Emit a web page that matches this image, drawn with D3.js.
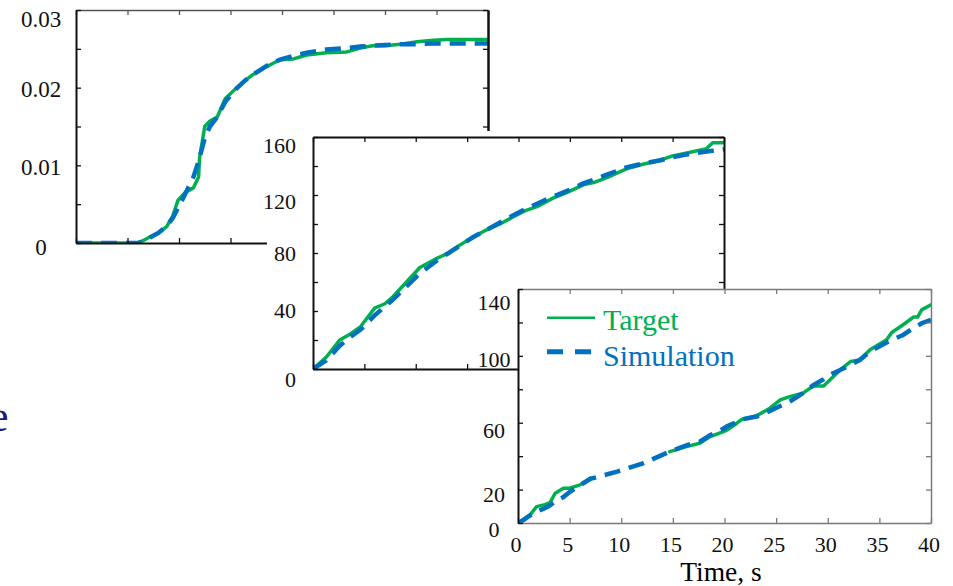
<!DOCTYPE html>
<html>
<head>
<meta charset="utf-8">
<script src="https://cdn.jsdelivr.net/npm/d3@7"></script>
<style>
  html, body { margin: 0; padding: 0; background: #fff; }
  svg { display: block; }
  text { font-family: "Liberation Serif", "Times New Roman", serif; }
</style>
</head>
<body>
<svg id="chart" width="953" height="586"></svg>
<script>
// ---- data -------------------------------------------------------------
const timeTicks = [0, 5, 10, 15, 20, 25, 30, 35, 40];
const timeLabels = ["0", "5", "10", "15", "20", "25", "30", "35", "40"];
const seriesNames = ["Target", "Simulation"];

// upper panel
const timeA = [0, 2, 4, 6, 6.5, 7.2, 8, 8.8, 9.4, 9.9, 10.6, 11.4, 11.9, 12.0, 12.5, 13.0, 13.7, 14.5,
  15.6, 16.4, 17.2, 18.5, 19.8, 21.1, 22.4, 24.3, 26.3, 27.6, 28.8, 30, 31.5, 33.1, 34.7, 36, 38, 40];
const targetA = [0, 0, 0, 0, 0.0003, 0.0008, 0.0013, 0.0021, 0.0035, 0.0055, 0.0065, 0.0071, 0.0085, 0.011,
  0.015, 0.0157, 0.0162, 0.0186, 0.0200, 0.0209, 0.0217, 0.0227, 0.0236, 0.0237, 0.0242, 0.0245, 0.0246,
  0.0251, 0.0254, 0.0254, 0.0256, 0.0259, 0.0261, 0.0262, 0.0262, 0.0262];
const simA = [0, 0, 0, 0, 0.0002, 0.0007, 0.0013, 0.0022, 0.0032, 0.0045, 0.0063, 0.0085, 0.0105, 0.011,
  0.0135, 0.015, 0.0162, 0.0182, 0.0199, 0.0209, 0.0217, 0.0228, 0.0236, 0.0241, 0.0245, 0.0249, 0.0251,
  0.0253, 0.0254, 0.0255, 0.0256, 0.0256, 0.0257, 0.0257, 0.0257, 0.0257];
const yTicksA = [0, 0.005, 0.01, 0.015, 0.02, 0.025, 0.03];
const yLabelsA = [0, 0.01, 0.02, 0.03];
const yLabelTextA = ["0", "0.01", "0.02", "0.03"];

// middle panel
const timeB = [0, 1.3, 2.6, 3.6, 4.6, 6, 7, 7.8, 9.1, 10.4, 12.1, 13.2, 14.3, 15.6, 16.9, 18.2, 19.5, 20.6,
  21.8, 23.4, 24.8, 26.3, 27.5, 28.6, 30.5, 32, 33.8, 35, 36.4, 38.3, 38.9, 40];
const targetB = [0, 8.3, 20, 24, 29, 42, 45, 50, 60, 70, 76.5, 80, 85.5, 91, 96, 100, 105, 109, 112, 118,
  122, 127, 129, 132, 138, 141, 144, 147, 149, 152, 156, 156];
const simB = [0, 6, 16, 22, 27, 37, 43, 48, 57, 66, 75, 80, 85, 91, 96, 101, 106, 110, 114, 119, 123, 128,
  131, 134, 139, 141.5, 144, 146, 148, 150, 150.5, 151.5];
const yTicksB = [0, 20, 40, 60, 80, 100, 120, 140, 160];
const yLabelsB = [0, 40, 80, 120, 160];

// lower panel (target record has a gap)
const timeC = [0, 0.6, 1.16, 1.8, 2.6, 3.1, 3.6, 4.4, 5.0, 6.0, 7.0, 9.6, 12.1, 14.7, 16.3, 17.6, 18.6, 19.9,
  20.2, 21.2, 21.7, 23.1, 24.4, 25.4, 26.3, 27.6, 28.6, 29.6, 30.2, 31.2, 32.2, 33.1, 34.1, 35.7, 36.2, 37.3,
  38.3, 38.7, 39.1, 40];
const targetC = [0, 2.5, 4.8, 9.8, 11, 12.2, 17.8, 20.8, 20.8, 22.8, 26.8, null, null, 42.7, 45.7, 47.7, 51.7,
  54.7, 55.5, 59.7, 62.1, 64.1, 68.7, 73.7, 75.6, 77.7, 82, 82, 85.6, 91.6, 96.6, 97.6, 103.6, 109.6, 114,
  118.6, 123.2, 123.2, 127.5, 130.5];
const simC = [0, 2.0, 4.5, 7, 8.8, 10.5, 13, 15.5, 18.5, 22.5, 26.4, 30.7, 35.7, 42.7, 46.5, 48.7, 52.5, 56.5,
  57.7, 60.5, 62, 63.7, 67, 70, 72.6, 77.7, 82.5, 86, 88.6, 91.5, 94.6, 97.5, 102.6, 108, 109.6, 112.5,
  116.6, 118, 119.5, 121.6];
const yTicksC = [0, 20, 40, 60, 80, 100, 120, 140];
const yLabelsC = [0, 20, 60, 100, 140];

// ---- styling ----------------------------------------------------------
const GREEN = "#00b050";
const BLUE = "#0070c0";
const FONT_TICK = 22;

const svg = d3.select("#chart");

const panels = [
  {
    id: "A", box: { l: 76, t: 10, r: 488, b: 243 }, yDomain: [0, 0.03],
    time: timeA, target: targetA, sim: simA, yTicks: yTicksA, yLabels: yLabelsA,
    yFmt: (d, i) => yLabelTextA[i], labelX: 41, anchor: "middle", fontSize: 23,
    labelShift: [4.5, 1.5, 1.5, 9.5],
    frame: { top: ["#555", 1.5], left: ["#111", 2], right: ["#111", 2.5], bottom: ["#111", 2] }
  },
  {
    id: "B", box: { l: 313, t: 137, r: 724, b: 369 }, yDomain: [0, 160],
    time: timeB, target: targetB, sim: simB, yTicks: yTicksB, yLabels: yLabelsB,
    yFmt: d => String(d), labelX: 296, anchor: "end", fontSize: 22,
    labelShift: [11, 0, 0.5, 6.5, 8.5],
    background: { x: 267, y: 131, w: 480, h: 262 },
    frame: { top: ["#111", 2], left: ["#111", 2], right: ["#111", 2], bottom: ["#111", 2] }
  },
  {
    id: "C", box: { l: 518, t: 289, r: 931, b: 523 }, yDomain: [0, 140],
    time: timeC, target: targetC, sim: simC, yTicks: yTicksC, yLabels: yLabelsC,
    yFmt: d => String(d), labelX: 494, anchor: "middle", fontSize: 22,
    labelShift: [7, 4.5, 8, 4, 13.5],
    background: { x: 518, y: 289, w: 413, h: 234 },
    frame: { top: ["#7a7a7a", 1.5], left: ["#111", 2], right: ["#7a7a7a", 1.5], bottom: ["#7a7a7a", 1.5] },
    xLabels: true, legend: true
  }
];

// partially visible heading letter at the left margin
svg.append("text")
  .attr("x", -11).attr("y", 431)
  .attr("font-size", 44).attr("fill", "#1b1b7c")
  .text("e");

panels.forEach(p => {
  const g = svg.append("g").attr("class", "panel-" + p.id);
  const { l, t, r, b } = p.box;

  if (p.background) {
    g.append("rect")
      .attr("x", p.background.x).attr("y", p.background.y)
      .attr("width", p.background.w).attr("height", p.background.h)
      .attr("fill", "#fff");
  }

  const x = d3.scaleLinear().domain([0, 40]).range([l, r]);
  const y = d3.scaleLinear().domain(p.yDomain).range([b, t]);

  // clip curves to the plotting frame
  g.append("clipPath").attr("id", "clip-" + p.id)
    .append("rect").attr("x", l).attr("y", t - 2).attr("width", r - l).attr("height", b - t + 2);

  const curves = g.append("g").attr("clip-path", `url(#clip-${p.id})`);
  const targetPts = p.time.map((tt, i) => [tt, p.target[i]]);
  const simPts = p.time.map((tt, i) => [tt, p.sim[i]]);
  const line = d3.line()
    .defined(d => d[1] !== null)
    .x(d => x(d[0])).y(d => y(d[1]));

  curves.append("path").datum(targetPts)
    .attr("d", line).attr("fill", "none")
    .attr("stroke", GREEN).attr("stroke-width", 3.5)
    .attr("stroke-linejoin", "round").attr("stroke-linecap", "round");
  curves.append("path").datum(simPts)
    .attr("d", line).attr("fill", "none")
    .attr("stroke", BLUE).attr("stroke-width", 4.5)
    .attr("stroke-dasharray", "16,9");

  // inward ticks on all four sides; the axis domain lines form the frame
  const axes = [
    { side: "top", gen: d3.axisTop(x).tickValues(timeTicks), tr: `translate(0,${t})` },
    { side: "bottom", gen: d3.axisBottom(x).tickValues(timeTicks), tr: `translate(0,${b})` },
    { side: "left", gen: d3.axisLeft(y).tickValues(p.yTicks), tr: `translate(${l},0)` },
    { side: "right", gen: d3.axisRight(y).tickValues(p.yTicks), tr: `translate(${r},0)` }
  ];
  axes.forEach(a => {
    const [col, w] = p.frame[a.side];
    const ag = g.append("g").attr("transform", a.tr)
      .call(a.gen.tickSizeInner(-5).tickSizeOuter(0).tickFormat(""));
    ag.select(".domain").attr("stroke", col).attr("stroke-width", w);
    ag.selectAll(".tick line").attr("stroke", col).attr("stroke-width", 1.3);
    ag.selectAll(".tick text").remove();
  });

  // y tick labels
  g.append("g").selectAll("text")
    .data(p.yLabels)
    .join("text")
    .attr("x", p.labelX)
    .attr("y", (d, i) => y(d) + p.labelShift[i] + 0.338 * p.fontSize)
    .attr("text-anchor", p.anchor)
    .attr("font-size", p.fontSize)
    .attr("fill", "#111")
    .text((d, i) => p.yFmt(d, i));

  if (p.xLabels) {
    g.append("g").selectAll("text")
      .data(timeTicks)
      .join("text")
      .attr("x", d => x(d) - 2)
      .attr("y", 551.5)
      .attr("text-anchor", "middle")
      .attr("font-size", FONT_TICK)
      .attr("fill", "#111")
      .text((d, i) => timeLabels[i]);

    g.append("text")
      .attr("x", 721).attr("y", 581)
      .attr("text-anchor", "middle")
      .attr("font-size", 27.5)
      .attr("fill", "#000")
      .text("Time, s");
  }

  if (p.legend) {
    const lg = g.append("g");
    const rows = [
      { name: seriesNames[0], color: GREEN, y: 317.7, base: 330, w: 2.5, dash: null, x2: 595 },
      { name: seriesNames[1], color: BLUE, y: 351.7, base: 366, w: 5, dash: "16,12", x2: 592 }
    ];
    rows.forEach(row => {
      lg.append("line")
        .attr("x1", 547).attr("x2", row.x2)
        .attr("y1", row.y).attr("y2", row.y)
        .attr("stroke", row.color).attr("stroke-width", row.w)
        .attr("stroke-dasharray", row.dash);
      lg.append("text")
        .attr("x", 603).attr("y", row.base)
        .attr("font-size", 30)
        .attr("fill", row.color)
        .text(row.name);
    });
  }
});
</script>
</body>
</html>
